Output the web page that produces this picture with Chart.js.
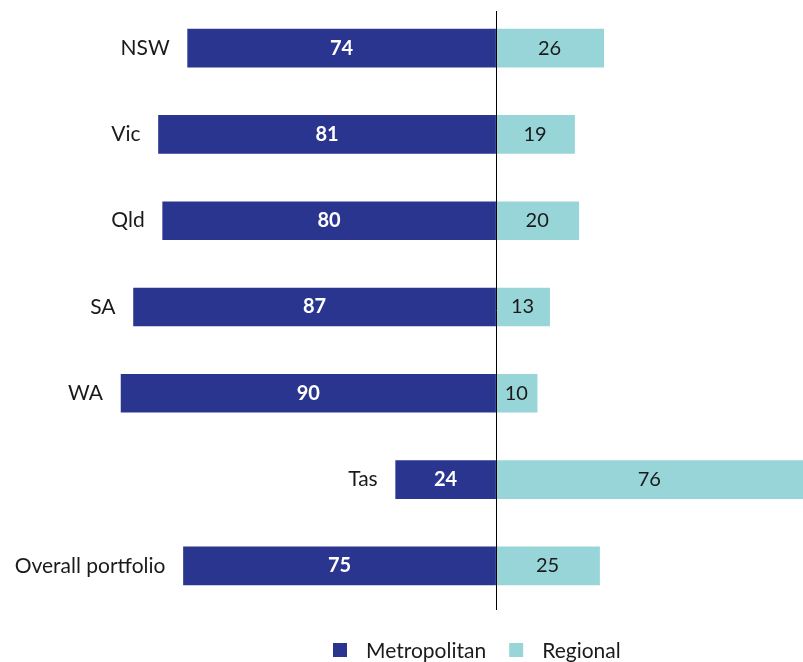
<!DOCTYPE html>
<html lang="en">
<head>
    <meta charset="UTF-8">
    <title>Metropolitan and Regional share by state</title>
    <script src="https://cdn.jsdelivr.net/npm/chart.js"></script>
    <style>
        html, body { margin: 0; padding: 0; background: #fff; }
        #wrap { width: 803px; height: 662px; }
    </style>
</head>
<body>
    <div id="wrap"><canvas id="splitChart"></canvas></div>
    <script>
        const categories = ['NSW', 'Vic', 'Qld', 'SA', 'WA', 'Tas', 'Overall portfolio'];
        const metropolitan = [74, 81, 80, 87, 90, 24, 75];
        const regional = [26, 19, 20, 13, 10, 76, 25];

        const NAVY = '#2a358f';
        const TEAL = '#98d5d8';
        const TEXT = '#1a1a1a';
        const FONT = 'Lato, "Open Sans", sans-serif';

        // category name just left of each metropolitan bar, value labels inside bars
        const barLabels = {
            id: 'barLabels',
            afterDatasetsDraw(chart) {
                const ctx = chart.ctx;
                const metaM = chart.getDatasetMeta(0);
                const metaR = chart.getDatasetMeta(1);
                ctx.save();
                ctx.textBaseline = 'middle';
                metaM.data.forEach((bar, i) => {
                    const left = Math.min(bar.x, bar.base);
                    ctx.font = '21px ' + FONT;
                    ctx.fillStyle = TEXT;
                    ctx.textAlign = 'right';
                    ctx.fillText(categories[i], left - 18, bar.y);

                    ctx.font = 'bold 20px ' + FONT;
                    ctx.fillStyle = '#ffffff';
                    ctx.textAlign = 'center';
                    ctx.fillText(metropolitan[i], (bar.x + bar.base) / 2, bar.y);
                });
                metaR.data.forEach((bar, i) => {
                    const right = Math.min(bar.x, chart.chartArea.right);
                    ctx.font = '20px ' + FONT;
                    ctx.fillStyle = TEXT;
                    ctx.textAlign = 'center';
                    ctx.fillText(regional[i], (right + bar.base) / 2, bar.y);
                });
                ctx.restore();
            }
        };

        const zeroLine = {
            id: 'zeroLine',
            afterDatasetsDraw(chart) {
                const ctx = chart.ctx;
                const x = Math.round(chart.scales.x.getPixelForValue(0)) + 0.5;
                ctx.save();
                ctx.strokeStyle = '#000';
                ctx.lineWidth = 1;
                ctx.beginPath();
                ctx.moveTo(x, 11);
                ctx.lineTo(x, 610);
                ctx.stroke();
                ctx.restore();
            }
        };

        // legend drawn from the datasets, placed below the plot
        const bottomLegend = {
            id: 'bottomLegend',
            afterDraw(chart) {
                const ctx = chart.ctx;
                const box = 14, textGap = 19, itemGap = 23;
                const y = 650;
                ctx.save();
                ctx.font = '21px ' + FONT;
                ctx.textBaseline = 'middle';
                ctx.textAlign = 'left';
                let x = 333;
                chart.data.datasets.forEach(ds => {
                    ctx.fillStyle = ds.backgroundColor;
                    ctx.fillRect(x, y - box / 2, box, box);
                    x += box + textGap;
                    ctx.fillStyle = TEXT;
                    ctx.fillText(ds.label, x, y + 1);
                    x += ctx.measureText(ds.label).width + itemGap;
                });
                ctx.restore();
            }
        };

        var ctx = document.getElementById('splitChart').getContext('2d');
        var chart = new Chart(ctx, {
            type: 'bar',
            data: {
                labels: categories,
                datasets: [{
                    label: 'Metropolitan',
                    backgroundColor: NAVY,
                    data: metropolitan.map(v => -v),
                    barThickness: 38
                }, {
                    label: 'Regional',
                    backgroundColor: TEAL,
                    data: regional,
                    barThickness: 38
                }]
            },
            options: {
                indexAxis: 'y',
                responsive: true,
                maintainAspectRatio: false,
                animation: false,
                layout: { padding: { top: 5, bottom: 53, left: 0, right: 0 } },
                scales: {
                    x: {
                        stacked: true,
                        display: false,
                        min: -119.1,
                        max: 73.9
                    },
                    y: {
                        stacked: true,
                        display: false
                    }
                },
                plugins: {
                    tooltip: { enabled: false },
                    legend: { display: false }
                }
            },
            plugins: [barLabels, zeroLine, bottomLegend]
        });
    </script>
</body>
</html>
